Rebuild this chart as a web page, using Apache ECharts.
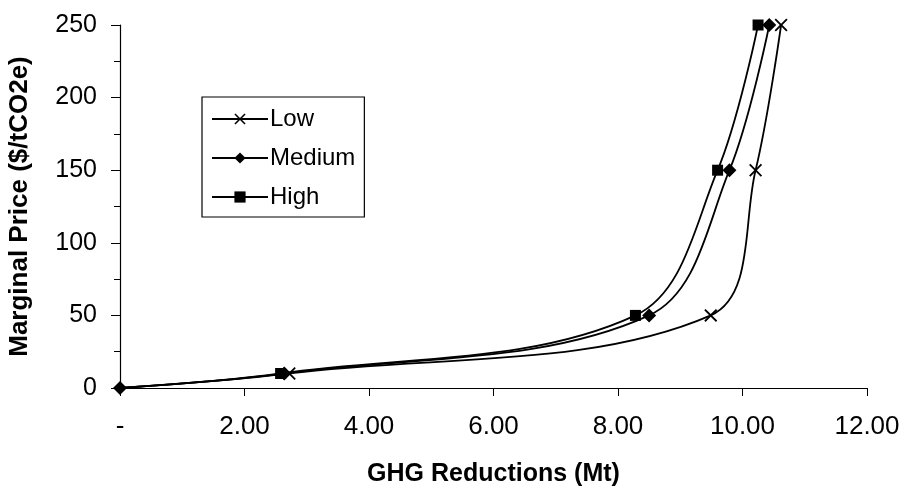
<!DOCTYPE html>
<html>
<head>
<meta charset="utf-8">
<script src="https://cdn.jsdelivr.net/npm/echarts@6/dist/echarts.min.js"></script>
<style>
  html, body { margin: 0; padding: 0; background: #fff; }
  #main { width: 905px; height: 486px; }
</style>
</head>
<body>
<div id="main"></div>
<script>
// GHG reduction (Mt) vs marginal price ($/tCO2e)
var seriesNames = ['Low', 'Medium', 'High'];
var prices = [0, 10, 50, 150, 250];
var lowX = [0, 2.72, 9.49, 10.21, 10.62];
var mediumX = [0, 2.64, 8.50, 9.79, 10.43];
var highX = [0, 2.58, 8.28, 9.60, 10.25];

var crossPath = 'path://M0,1L1,0L5,4L9,0L10,1L6,5L10,9L9,10L5,6L1,10L0,9L4,5Z';

function pairs(xs, hideOrigin) {
  return xs.map(function (x, i) {
    var item = { value: [x, prices[i]] };
    if (i === 0 && hideOrigin) item.symbol = 'none';
    return item;
  });
}

var myChart = echarts.init(document.getElementById('main'));

var font = 'Liberation Sans, Arial, sans-serif';

function lineSeries(name, xs, symbol, size, hideOrigin) {
  return {
    name: name,
    type: 'line',
    smooth: 0.35,
    data: pairs(xs, hideOrigin),
    symbol: symbol,
    symbolSize: size,
    showAllSymbol: true,
    lineStyle: { color: '#000', width: 1.8 },
    itemStyle: { color: '#000', borderWidth: 0 },
    emphasis: { disabled: true }
  };
}

var option = {
  animation: false,
  backgroundColor: '#fff',
  grid: { left: 120, right: 38, top: 25, bottom: 98, containLabel: false, outerBoundsMode: 'none' },
  legend: {
    orient: 'vertical',
    left: 202,
    top: 97,
    padding: [10, 9, 8, 9],
    borderColor: '#000',
    borderWidth: 1.2,
    itemWidth: 56,
    itemHeight: 14,
    itemGap: 15,
    textStyle: { fontFamily: font, fontSize: 24, lineHeight: 24, color: '#000', padding: [0, 0, 0, -3] },
    data: seriesNames
  },
  xAxis: {
    type: 'value',
    min: 0,
    max: 12,
    interval: 2,
    name: 'GHG Reductions (Mt)',
    nameLocation: 'middle',
    nameGap: 74,
    nameTextStyle: { fontFamily: font, fontSize: 25, fontWeight: 'bold', color: '#000' },
    axisLine: { show: true, lineStyle: { color: '#000', width: 1.2 } },
    axisTick: { show: true, length: 8, lineStyle: { color: '#000' } },
    axisLabel: {
      margin: 26,
      fontFamily: font, fontSize: 26, color: '#000',
      formatter: function (v) { return v === 0 ? '-' : v.toFixed(2); }
    },
    splitLine: { show: false }
  },
  yAxis: {
    type: 'value',
    min: 0,
    max: 250,
    interval: 50,
    name: 'Marginal Price ($/tCO2e)',
    nameLocation: 'middle',
    nameGap: 87,
    nameTextStyle: { fontFamily: font, fontSize: 26, fontWeight: 'bold', color: '#000' },
    axisLine: { show: true, lineStyle: { color: '#000', width: 1.2 } },
    axisTick: { show: true, length: 9, lineStyle: { color: '#000' } },
    minorTick: { show: true, splitNumber: 2, length: 6, lineStyle: { color: '#000' } },
    axisLabel: { margin: 23, fontFamily: font, fontSize: 25, color: '#000' },
    splitLine: { show: false }
  },
  series: [
    lineSeries('Low', lowX, crossPath, 13, true),
    lineSeries('Medium', mediumX, 'diamond', 14, false),
    lineSeries('High', highX, 'rect', 11, true)
  ]
};

myChart.setOption(option);
</script>
</body>
</html>
